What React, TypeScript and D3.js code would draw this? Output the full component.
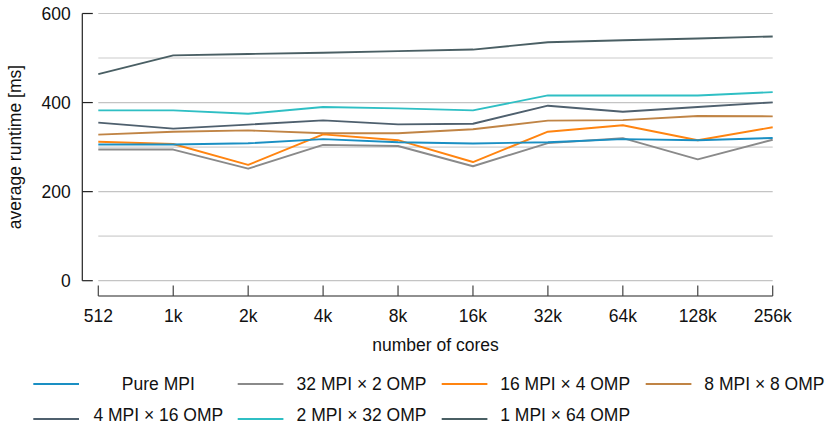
import React from "react";
import * as d3 from "d3";

const cores = ["512", "1k", "2k", "4k", "8k", "16k", "32k", "64k", "128k", "256k"];
const pureMPI = [306, 306, 308.5, 318, 311, 308, 311, 318, 315.5, 320.5];
const mpi32omp2 = [294.5, 294.5, 251.5, 305, 302.5, 257, 309, 320, 272.5, 316.5];
const mpi16omp4 = [312, 307, 260, 328.5, 315.5, 266.5, 334.5, 349, 315.5, 344.5];
const mpi8omp8 = [328, 334.5, 337.5, 331, 331, 340, 359.5, 360.5, 370, 369];
const mpi4omp16 = [355, 341.5, 350.5, 360, 351, 352.5, 393, 379.5, 390, 400.5];
const mpi2omp32 = [382.5, 382.5, 375, 390, 387, 382.5, 416, 416, 416, 423.5];
const mpi1omp64 = [464, 506, 509, 512, 515.5, 519, 535.5, 540, 544, 548.5];

const seriesNames = [
  "Pure MPI",
  "32 MPI \u00d7 2 OMP",
  "16 MPI \u00d7 4 OMP",
  "8 MPI \u00d7 8 OMP",
  "4 MPI \u00d7 16 OMP",
  "2 MPI \u00d7 32 OMP",
  "1 MPI \u00d7 64 OMP",
];
const seriesValues = [pureMPI, mpi32omp2, mpi16omp4, mpi8omp8, mpi4omp16, mpi2omp32, mpi1omp64];
const seriesColors = ["#1a8fc3", "#8a8a8a", "#ff8410", "#c08445", "#4f606e", "#2fbfc4", "#4a5f64"];

const yTicksMajor = [0, 200, 400, 600];
const yGrid = [0, 100, 200, 300, 400, 500, 600];

const W = 831;
const H = 425;
const FONT = "'Liberation Sans', Arial, Helvetica, sans-serif";
const FS = 17.5;

export default function App() {
  const x = d3.scalePoint<string>().domain(cores).range([98.3, 772.7]);
  const y = d3.scaleLinear().domain([0, 600]).range([280.7, 13.5]);
  const line = d3
    .line<number>()
    .x((_, i) => x(cores[i]) as number)
    .y((d) => y(d));

  const axisX = 82.3;
  const axisY = 296;
  const [x0, x1] = x.range();

  // legend layout
  const colSwatch = [33.3, 237.7, 441.7, 645.7];
  const colTextCenter = [158.3, 361.5, 565.2, 764.4];
  const rowY = [384, 419];
  const rowTextBase = [389.5, 420.5];

  const drawOrder = seriesValues.map((_, i) => i).reverse();

  return (
    <svg
      width={W}
      height={H}
      style={{ position: "absolute", left: 0, top: 0, fontFamily: FONT }}
    >
      <rect width={W} height={H} fill="#fff" />
      {/* grid */}
      {yGrid.map((v) => (
        <line
          key={"g" + v}
          x1={x0}
          x2={x1}
          y1={y(v)}
          y2={y(v)}
          stroke={v % 200 === 0 ? "#c4c4c4" : "#dcdcdc"}
          strokeWidth={v % 200 === 0 ? 1.2 : 1.6}
        />
      ))}
      {/* y axis */}
      <line x1={axisX} x2={axisX} y1={y(600)} y2={y(0)} stroke="#222" strokeWidth={1.2} />
      {yTicksMajor.map((v) => (
        <g key={"yt" + v}>
          <line x1={axisX} x2={axisX + 10.5} y1={y(v)} y2={y(v)} stroke="#222" strokeWidth={1.2} />
          <text
            x={70.7}
            y={y(v)}
            dy="0.36em"
            textAnchor="end"
            fontSize={FS}
            fill="#111"
          >
            {v}
          </text>
        </g>
      ))}
      <text
        transform={`translate(21,${(y(0) + y(600)) / 2}) rotate(-90)`}
        textAnchor="middle"
        fontSize={FS}
        fill="#111"
      >
        average runtime [ms]
      </text>
      {/* x axis */}
      <line x1={x0} x2={x1} y1={axisY} y2={axisY} stroke="#222" strokeWidth={1.2} />
      {cores.map((c) => (
        <g key={"xt" + c}>
          <line
            x1={x(c)}
            x2={x(c)}
            y1={axisY}
            y2={axisY - 10.5}
            stroke="#444"
            strokeWidth={1.2}
          />
          <text x={x(c)} y={321.5} textAnchor="middle" fontSize={FS} fill="#111">
            {c}
          </text>
        </g>
      ))}
      <text x={(x0 + x1) / 2} y={351} textAnchor="middle" fontSize={FS} fill="#111">
        number of cores
      </text>
      {/* series */}
      {drawOrder.map((i) => (
        <path
          key={"s" + i}
          d={line(seriesValues[i]) || ""}
          fill="none"
          stroke={seriesColors[i]}
          strokeWidth={1.9}
          strokeLinejoin="round"
        />
      ))}
      {/* legend */}
      {seriesNames.map((name, i) => {
        const col = i % 4;
        const row = Math.floor(i / 4);
        const sy = rowY[row];
        return (
          <g key={"l" + i}>
            <line
              x1={colSwatch[col]}
              x2={colSwatch[col] + 45.7}
              y1={sy}
              y2={sy}
              stroke={seriesColors[i]}
              strokeWidth={2.2}
            />
            <text
              x={colTextCenter[col]}
              y={rowTextBase[row]}
              textAnchor="middle"
              fontSize={FS}
              fill="#111"
            >
              {name}
            </text>
          </g>
        );
      })}
    </svg>
  );
}
